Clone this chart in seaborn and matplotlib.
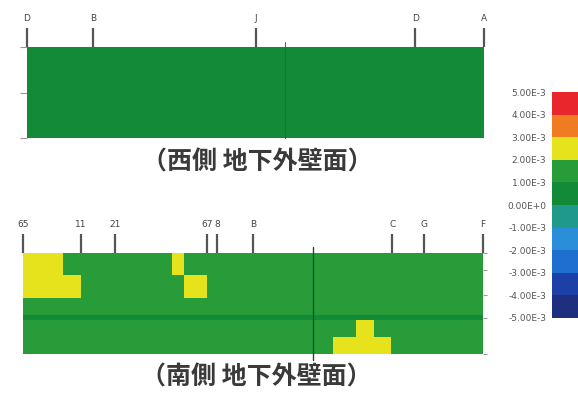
import numpy as np
import pandas as pd
import matplotlib
matplotlib.use("Agg")
import matplotlib.pyplot as plt
from matplotlib.colors import ListedColormap, BoundaryNorm
import seaborn as sns

sns.set_theme(style="white")
plt.rcParams["font.family"] = ["Noto Sans CJK JP", "DejaVu Sans"]

# Strain-level legend (band edges) and band colours, low to high
level_edges = [-5e-3, -4e-3, -3e-3, -2e-3, -1e-3, 0.0, 1e-3, 2e-3, 3e-3, 4e-3, 5e-3]
level_labels = ["-5.00E-3", "-4.00E-3", "-3.00E-3", "-2.00E-3", "-1.00E-3",
                "0.00E+0", "1.00E-3", "2.00E-3", "3.00E-3", "4.00E-3", "5.00E-3"]
band_colors = ["#1f2f80", "#1d3fa8", "#1f6fd0", "#2a8fd8", "#1f9a8a",
               "#138a38", "#279c38", "#e6e21c", "#f07c22", "#e8262c"]

# Cell codes -> representative strain value
code_values = {"g": 0.5e-3, "G": 1.5e-3, "Y": 2.5e-3}

# West wall (basement exterior) strain map, 8 x 40 cells
west_rows = ["gggggggggg" "gggggggggg" "gggggggggg" "gggggggggg"] * 8
west_grid_pos = [0, 5.8, 20, 34, 40]
west_grid_labels = ["D", "B", "J", "D", "A"]

# South wall (basement exterior) strain map, 18 x 80 cells (10-cell chunks)
south_rows = [
    "YYYYYYYGGG" "GGGGGGGGGG" "GGGGGGYYGG" "GGGGGGGGGG" "GGGGGGGGGG" "GGGGGGGGGG" "GGGGGGGGGG" "GGGGGGGGGG",
    "YYYYYYYGGG" "GGGGGGGGGG" "GGGGGGYYGG" "GGGGGGGGGG" "GGGGGGGGGG" "GGGGGGGGGG" "GGGGGGGGGG" "GGGGGGGGGG",
    "YYYYYYYGGG" "GGGGGGGGGG" "GGGGGGYYGG" "GGGGGGGGGG" "GGGGGGGGGG" "GGGGGGGGGG" "GGGGGGGGGG" "GGGGGGGGGG",
    "YYYYYYYGGG" "GGGGGGGGGG" "GGGGGGYYGG" "GGGGGGGGGG" "GGGGGGGGGG" "GGGGGGGGGG" "GGGGGGGGGG" "GGGGGGGGGG",
    "YYYYYYYYYY" "GGGGGGGGGG" "GGGGGGGGYY" "YYGGGGGGGG" "GGGGGGGGGG" "GGGGGGGGGG" "GGGGGGGGGG" "GGGGGGGGGG",
    "YYYYYYYYYY" "GGGGGGGGGG" "GGGGGGGGYY" "YYGGGGGGGG" "GGGGGGGGGG" "GGGGGGGGGG" "GGGGGGGGGG" "GGGGGGGGGG",
    "YYYYYYYYYY" "GGGGGGGGGG" "GGGGGGGGYY" "YYGGGGGGGG" "GGGGGGGGGG" "GGGGGGGGGG" "GGGGGGGGGG" "GGGGGGGGGG",
    "YYYYYYYYYY" "GGGGGGGGGG" "GGGGGGGGYY" "YYGGGGGGGG" "GGGGGGGGGG" "GGGGGGGGGG" "GGGGGGGGGG" "GGGGGGGGGG",
    "GGGGGGGGGG" "GGGGGGGGGG" "GGGGGGGGGG" "GGGGGGGGGG" "GGGGGGGGGG" "GGGGGGGGGG" "GGGGGGGGGG" "GGGGGGGGGG",
    "GGGGGGGGGG" "GGGGGGGGGG" "GGGGGGGGGG" "GGGGGGGGGG" "GGGGGGGGGG" "GGGGGGGGGG" "GGGGGGGGGG" "GGGGGGGGGG",
    "GGGGGGGGGG" "GGGGGGGGGG" "GGGGGGGGGG" "GGGGGGGGGG" "GGGGGGGGGG" "GGGGGGGGGG" "GGGGGGGGGG" "GGGGGGGGGG",
    "gggggggggg" "gggggggggg" "gggggggggg" "gggggggggg" "gggggggggg" "gggggggggg" "gggggggggg" "gggggggggg",
    "GGGGGGGGGG" "GGGGGGGGGG" "GGGGGGGGGG" "GGGGGGGGGG" "GGGGGGGGGG" "GGGGGGGGYY" "YGGGGGGGGG" "GGGGGGGGGG",
    "GGGGGGGGGG" "GGGGGGGGGG" "GGGGGGGGGG" "GGGGGGGGGG" "GGGGGGGGGG" "GGGGGGGGYY" "YGGGGGGGGG" "GGGGGGGGGG",
    "GGGGGGGGGG" "GGGGGGGGGG" "GGGGGGGGGG" "GGGGGGGGGG" "GGGGGGGGGG" "GGGGGGGGYY" "YGGGGGGGGG" "GGGGGGGGGG",
    "GGGGGGGGGG" "GGGGGGGGGG" "GGGGGGGGGG" "GGGGGGGGGG" "GGGGGGGGGG" "GGGGYYYYYY" "YYYYGGGGGG" "GGGGGGGGGG",
    "GGGGGGGGGG" "GGGGGGGGGG" "GGGGGGGGGG" "GGGGGGGGGG" "GGGGGGGGGG" "GGGGYYYYYY" "YYYYGGGGGG" "GGGGGGGGGG",
    "GGGGGGGGGG" "GGGGGGGGGG" "GGGGGGGGGG" "GGGGGGGGGG" "GGGGGGGGGG" "GGGGYYYYYY" "YYYYGGGGGG" "GGGGGGGGGG",
]
south_grid_pos = [0, 10, 16, 32, 33.7, 40, 64.2, 69.7, 80]
south_grid_labels = ["65", "11", "21", "67", "8", "B", "C", "G", "F"]


def to_frame(rows):
    return pd.DataFrame([[code_values[c] for c in r] for r in rows])


cmap = ListedColormap(band_colors)
norm = BoundaryNorm(level_edges, cmap.N)

fig = plt.figure(figsize=(5.78, 3.97), dpi=100)
ax_w = fig.add_axes([0.0467, 0.6524, 0.7907, 0.2292])
ax_s = fig.add_axes([0.0398, 0.1083, 0.7958, 0.2544])
cax = fig.add_axes([0.955, 0.199, 0.06, 0.569])

sns.heatmap(to_frame(west_rows), ax=ax_w, cmap=cmap, norm=norm, cbar=False,
            xticklabels=False, yticklabels=False, linewidths=0)
sns.heatmap(to_frame(south_rows), ax=ax_s, cmap=cmap, norm=norm, cbar=True,
            cbar_ax=cax, xticklabels=False, yticklabels=False, linewidths=0)

tick_color = "#555555"
label_color = "#444444"
for ax, pos, labels in [(ax_w, west_grid_pos, west_grid_labels),
                        (ax_s, south_grid_pos, south_grid_labels)]:
    ax.xaxis.tick_top()
    ax.set_xticks(pos)
    ax.set_xticklabels(labels, fontsize=6.5, color=label_color, family="DejaVu Sans")
    ax.tick_params(axis="x", top=True, bottom=False, length=14, width=1.6,
                   color=tick_color, pad=3, direction="out")

# small level ticks on the wall edges
ax_w.set_yticks([0, 4, 8])
ax_w.set_yticklabels([""] * 3)
ax_w.tick_params(axis="y", left=True, length=5, width=0.8, color="#999999")
ax_s.yaxis.tick_right()
ax_s.set_yticks([0, 3, 7.5, 11.5, 18])
ax_s.set_yticklabels([""] * 5)
ax_s.tick_params(axis="y", right=True, left=False, length=3, width=0.8, color="#999999")

# structural joint lines
ax_w.axvline(22.6, ymin=0, ymax=1.06, color="#0f7a32", lw=0.7, clip_on=False)
ax_s.axvline(50.5, ymin=-0.06, ymax=1.06, color="#0d5a25", lw=1.0, clip_on=False)

# titles under each wall
fig.text(0.445, 1 - 162 / 397, "（西側 地下外壁面）", ha="center", va="center",
         fontsize=18, fontweight="bold", color="#3a3a3a")
fig.text(0.443, 1 - 377 / 397, "（南側 地下外壁面）", ha="center", va="center",
         fontsize=18, fontweight="bold", color="#3a3a3a")

# colour legend
cb = ax_s.collections[0].colorbar
cb.set_ticks(level_edges)
cb.set_ticklabels(level_labels)
cb.outline.set_visible(False)
cax.yaxis.set_ticks_position("left")
cax.tick_params(axis="y", length=0, labelsize=6.5, labelcolor="#555555", pad=4)
for t in cax.get_yticklabels():
    t.set_family("DejaVu Sans")

fig.savefig("out.png", dpi=100)
